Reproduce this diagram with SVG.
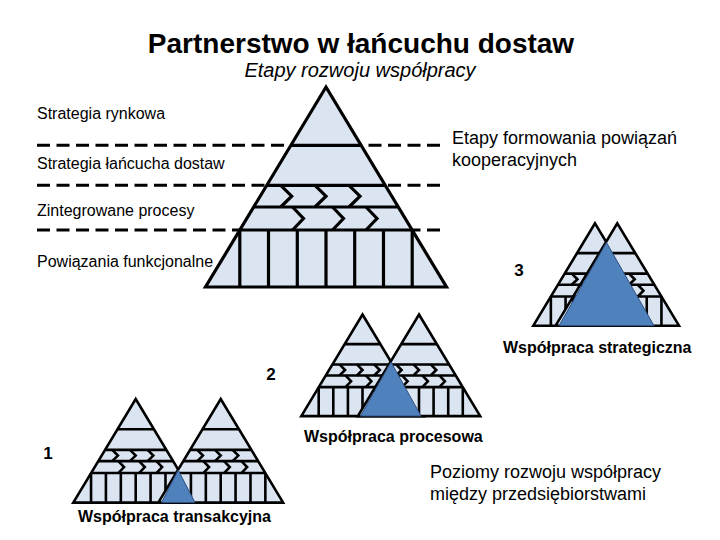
<svg xmlns="http://www.w3.org/2000/svg" xmlns:xlink="http://www.w3.org/1999/xlink" width="720" height="540" viewBox="0 0 720 540">
<style>
text{font-family:"Liberation Sans",Arial,sans-serif;fill:#000}
.t{font-size:28px;font-weight:bold}
.st{font-size:20px;font-style:italic}
.lbl{font-size:16px}
.lbl18{font-size:18px}
.b{font-size:16px;font-weight:bold}
.num{font-size:17px;font-weight:bold;text-anchor:middle}
.dash{stroke:#000;stroke-width:3;stroke-dasharray:13 6.5;fill:none}
.blue{fill:#4F81BD;stroke:#2F4F7F;stroke-width:1}
</style>
<defs>
<g id="pyr">
<path d="M0,0 L120.5,200 L-120.5,200 Z" fill="#DBE5F1"/>
<path fill="none" stroke="#000" vector-effect="non-scaling-stroke" d="M-35.1,58.3 H35.1 M-59.2,98.3 H59.2 M-72.3,120 H72.3 M-86.2,143 H86.2 M-86.2,143 V200 M-57.5,143 V200 M-28.7,143 V200 M0,143 V200 M28.7,143 V200 M57.5,143 V200 M86.2,143 V200"/>
<path fill="none" stroke="#000" vector-effect="non-scaling-stroke" d="M-45.3,98.3 L-34.3,109.2 L-45.3,120 M-11,98.3 L0,109.2 L-11,120 M23,98.3 L34,109.2 L23,120 M-33.5,120 L-22.5,131.5 L-33.5,143 M6.5,120 L17.5,131.5 L6.5,143 M40,120 L51,131.5 L40,143"/>
<path fill="none" stroke="#000" vector-effect="non-scaling-stroke" stroke-linejoin="miter" d="M0,0 L120.5,200 L-120.5,200 Z"/>
</g>
</defs>
<rect width="720" height="540" fill="#fff"/>
<g id="title">
<text class="t" x="361" y="53" text-anchor="middle">Partnerstwo w łańcuchu dostaw</text>
<text class="st" x="360" y="77" text-anchor="middle">Etapy rozwoju współpracy</text>
</g>
<g id="connectors">
<line class="dash" x1="37" y1="145.3" x2="442" y2="145.3"/>
<line class="dash" x1="37" y1="185.3" x2="442" y2="185.3"/>
<line class="dash" x1="37" y1="230" x2="446" y2="230"/>
</g>
<g id="pyramid-main">
<use xlink:href="#pyr" href="#pyr" transform="translate(326,87)" stroke-width="3.2"/>
</g>
<g id="levels">
<text class="lbl" x="37" y="119">Strategia rynkowa</text>
<text class="lbl" x="37" y="169">Strategia łańcucha dostaw</text>
<text class="lbl" x="37" y="216">Zintegrowane procesy</text>
<text class="lbl" x="37" y="267">Powiązania funkcjonalne</text>
<text class="lbl18" x="452" y="144">Etapy formowania powiązań</text>
<text class="lbl18" x="452" y="166">kooperacyjnych</text>
</g>
<g id="stage3">
<use xlink:href="#pyr" href="#pyr" transform="translate(595,223.3) scale(0.512)" stroke-width="2.6"/>
<use xlink:href="#pyr" href="#pyr" transform="translate(617.3,223.3) scale(0.512)" stroke-width="2.6"/>
<path class="blue" d="M606.5,242.5 L654,325.7 L559,325.7 Z"/>
<text class="num" x="519" y="276">3</text>
<text class="b" x="503" y="353">Współpraca strategiczna</text>
</g>
<g id="stage2">
<use xlink:href="#pyr" href="#pyr" transform="translate(362.5,314.5) scale(0.508)" stroke-width="2.6"/>
<use xlink:href="#pyr" href="#pyr" transform="translate(419,314.5) scale(0.508)" stroke-width="2.6"/>
<path class="blue" d="M391,362 L421,416 L360.5,416 Z"/>
<text class="num" x="271" y="380">2</text>
<text class="b" x="304" y="442">Współpraca procesowa</text>
</g>
<g id="stage1">
<use xlink:href="#pyr" href="#pyr" transform="translate(135.7,399) scale(0.518)" stroke-width="2.6"/>
<use xlink:href="#pyr" href="#pyr" transform="translate(220.7,399) scale(0.518)" stroke-width="2.6"/>
<path class="blue" d="M178.2,470 L195,502.6 L161.5,502.6 Z"/>
<text class="num" x="48" y="459">1</text>
<text class="b" x="78" y="522">Współpraca transakcyjna</text>
</g>
<g id="axis-label">
<text class="lbl18" x="430" y="478">Poziomy rozwoju współpracy</text>
<text class="lbl18" x="430" y="500">między przedsiębiorstwami</text>
</g>
</svg>
